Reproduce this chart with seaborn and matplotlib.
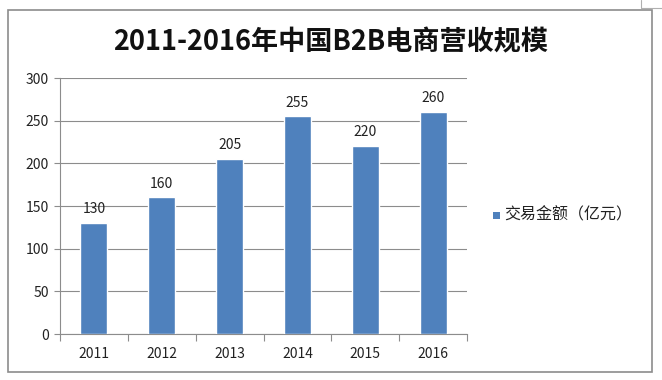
import numpy as np
import pandas as pd
import matplotlib.pyplot as plt
import seaborn as sns
from matplotlib.patches import Rectangle
from matplotlib.lines import Line2D

# data
years = ['2011', '2012', '2013', '2014', '2015', '2016']
values = [130, 160, 205, 255, 220, 260]
series_name = '交易金额（亿元）'

df = pd.DataFrame({'year': years, 'value': values})

sns.set_theme(style='white')
plt.rcParams['font.family'] = ['Noto Sans CJK SC', 'DejaVu Sans']

bar_color = '#4F81BD'
grid_color = '#8C8C8C'

fig = plt.figure(figsize=(6.62, 3.80), dpi=100)
ax = fig.add_axes([60 / 662, 1 - 334 / 380, 407 / 662, 256 / 380])

sns.barplot(data=df, x='year', y='value', color=bar_color, width=0.4,
            saturation=1, ax=ax, zorder=3)

ax.set_xlim(-0.5, 5.5)
ax.set_ylim(0, 300)
ax.set_yticks(np.arange(0, 301, 50))
ax.set_xlabel('')
ax.set_ylabel('')

ax.yaxis.grid(True, color=grid_color, linewidth=0.8, zorder=0)
for s in ['top', 'right']:
    ax.spines[s].set_visible(False)
for s in ['left', 'bottom']:
    ax.spines[s].set_color(grid_color)
    ax.spines[s].set_linewidth(0.8)

ax.tick_params(axis='y', length=4, color=grid_color, width=0.8,
               labelsize=10, labelcolor='#222222', pad=4, left=True)
ax.tick_params(axis='x', which='major', length=0, labelsize=10,
               labelcolor='#222222', pad=9)
ax.set_xticks(np.arange(-0.5, 6, 1), minor=True)
ax.tick_params(axis='x', which='minor', length=5, color=grid_color,
               width=0.8, bottom=True)

for i, v in enumerate(values):
    ax.text(i, v + 8, str(v), ha='center', va='bottom', fontsize=10,
            color='#222222')

# title
fig.text(0.5, 1 - 42 / 380, '2011-2016年中国B2B电商营收规模', ha='center',
         va='center', fontsize=19.5, fontweight='semibold', color='#111111')

# legend
fig.patches.append(Rectangle((493 / 662, 1 - 219 / 380), 7 / 662, 7 / 380,
                             transform=fig.transFigure, facecolor=bar_color,
                             edgecolor='none'))
fig.text(504 / 662, 1 - 215 / 380, series_name, ha='left', va='center',
         fontsize=11.5, color='#222222')

# chart frame
fig.patches.append(Rectangle((8 / 662, 1 - 372 / 380), 644 / 662, 362 / 380,
                             transform=fig.transFigure, facecolor='none',
                             edgecolor='#8C8C8C', linewidth=1.2))
fig.lines.append(Line2D([641 / 662, 641 / 662], [1, 1 - 8 / 380],
                        transform=fig.transFigure, color='#B0B0B0', lw=0.8))
fig.lines.append(Line2D([641 / 662, 1], [1 - 8 / 380, 1 - 8 / 380],
                        transform=fig.transFigure, color='#B0B0B0', lw=0.8))

fig.savefig('out.png', dpi=100)
